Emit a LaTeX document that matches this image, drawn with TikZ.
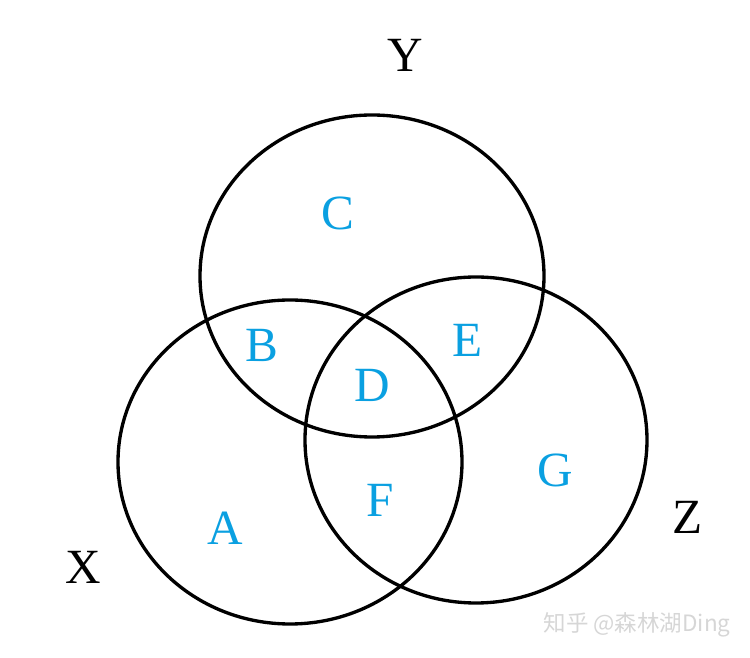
\documentclass[tikz,border=0pt]{standalone}
\usepackage{fontspec}
\setmainfont{Liberation Serif}
\newfontfamily\cjk{Noto Sans CJK SC}
\usepackage{tikz}
\usepackage{xcolor}
\definecolor{setblue}{RGB}{10,160,225}

\begin{document}
\begin{tikzpicture}[
    font=\fontsize{28}{32}\selectfont,
    set/.style={draw=black, line width=1.9pt},
    setname/.style={text=black},
    region/.style={text=setblue},
  ]
    \useasboundingbox (0,0) rectangle (15,13.16);

    % the three sets
    \draw[set] (7.44,7.64) ellipse [x radius=3.44cm, y radius=3.22cm];
    \draw[set] (5.80,3.92) ellipse [x radius=3.44cm, y radius=3.24cm];
    \draw[set] (9.52,4.36) ellipse [x radius=3.42cm, y radius=3.26cm];

    \node[setname] (y) at (8.10,12.06) {Y};
    \node[setname] (x) at (1.66,1.82) {X};
    \node[setname] (z) at (13.76,2.82) {Z};

    \node[region] (c) at (6.76,8.90) {C};
    \node[region] (b) at (5.24,6.26) {B};
    \node[region] (e) at (9.36,6.36) {E};
    \node[region] (d) at (7.44,5.46) {D};
    \node[region] (f) at (7.60,3.16) {F};
    \node[region] (g) at (11.10,3.76) {G};
    \node[region] (a) at (4.50,2.60) {A};

    \node[text=black!16, font=\cjk\fontsize{12.8}{15}\selectfont] (wm) at (12.74,0.66) {知乎 @森林湖Ding};
  \end{tikzpicture}
\end{document}
